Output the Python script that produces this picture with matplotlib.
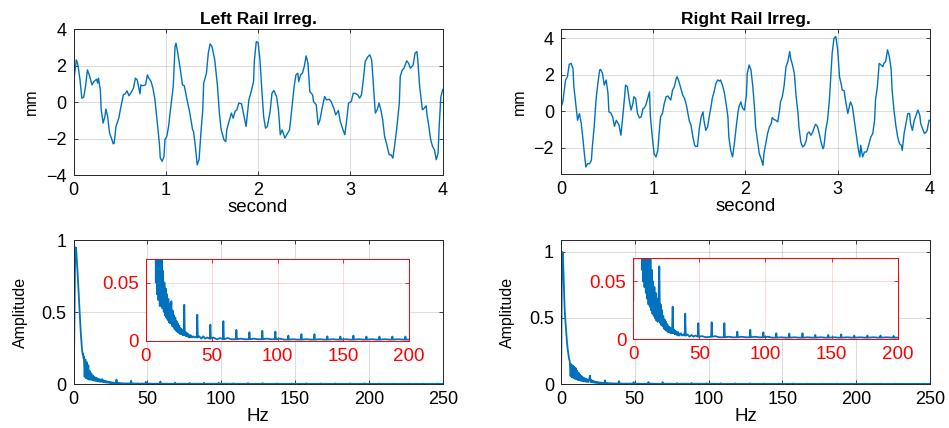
import numpy as np
import matplotlib.pyplot as plt

plt.rcParams['font.family'] = ['Liberation Sans', 'DejaVu Sans']

# ---- time histories (t in s, irregularity in mm)
left_t = [0.00, 0.01, 0.03, 0.04, 0.05, 0.07, 0.09, 0.11, 0.13, 0.15, 0.17, 0.20, 0.22, 0.25, 0.26,
          0.27, 0.29, 0.30, 0.32, 0.34, 0.35, 0.37, 0.39, 0.41, 0.43, 0.44, 0.46, 0.49, 0.51, 0.54,
          0.56, 0.58, 0.60, 0.63, 0.65, 0.67, 0.69, 0.72, 0.73, 0.75, 0.78, 0.80, 0.81, 0.84, 0.86,
          0.88, 0.90, 0.93, 0.94, 0.96, 0.98, 0.99, 1.01, 1.03, 1.05, 1.08, 1.10, 1.11, 1.13, 1.16,
          1.18, 1.20, 1.23, 1.26, 1.29, 1.30, 1.32, 1.34, 1.36, 1.38, 1.40, 1.41, 1.44, 1.46, 1.48,
          1.50, 1.53, 1.56, 1.58, 1.60, 1.63, 1.65, 1.66, 1.69, 1.71, 1.73, 1.75, 1.77, 1.79, 1.82,
          1.84, 1.87, 1.90, 1.93, 1.95, 1.96, 1.98, 2.00, 2.02, 2.04, 2.06, 2.08, 2.10, 2.13, 2.15,
          2.17, 2.20, 2.22, 2.24, 2.26, 2.29, 2.31, 2.34, 2.36, 2.39, 2.41, 2.43, 2.44, 2.46, 2.48,
          2.50, 2.52, 2.54, 2.56, 2.59, 2.60, 2.63, 2.65, 2.67, 2.69, 2.72, 2.74, 2.77, 2.79, 2.82,
          2.84, 2.87, 2.89, 2.92, 2.94, 2.96, 2.98, 3.01, 3.03, 3.05, 3.08, 3.10, 3.12, 3.14, 3.16,
          3.19, 3.21, 3.23, 3.25, 3.27, 3.29, 3.31, 3.33, 3.35, 3.37, 3.39, 3.42, 3.44, 3.46, 3.48,
          3.50, 3.53, 3.54, 3.56, 3.58, 3.61, 3.63, 3.65, 3.68, 3.70, 3.72, 3.73, 3.75, 3.78, 3.80,
          3.82, 3.83, 3.85, 3.87, 3.89, 3.91, 3.93, 3.95, 3.96, 3.98, 4.00]
left_mm = [0.53, 1.50, 2.32, 2.20, 1.96, 1.22, 0.22, 0.27, 0.86, 1.77, 1.50, 0.95, 1.13, 1.26, 1.05,
           1.32, 0.68, -0.42, -1.15, -0.79, -0.38, -0.79, -1.70, -1.97, -2.29, -2.25, -1.33, -0.88, -0.33, 0.40,
           0.46, 0.62, 0.35, 0.58, 0.77, 1.32, 1.22, 0.46, 0.95, 0.90, 0.95, 1.50, 1.37, 1.13, 0.77,
           0.22, -0.79, -2.25, -3.07, -3.25, -2.98, -2.07, -1.88, -1.33, -0.42, 0.86, 3.05, 3.24, 2.69, 1.68,
           0.95, 0.90, 0.13, -0.60, -1.52, -1.61, -2.43, -3.44, -3.16, -1.70, -0.42, 1.04, 1.59, 2.69, 3.20,
           3.05, 2.32, 0.86, -0.60, -1.52, -2.07, -2.16, -1.52, -0.97, -0.60, -0.88, -0.51, -0.42, -0.05, -0.09,
           -0.60, -1.33, 0.13, 0.68, 1.13, 2.32, 3.33, 3.27, 2.32, 0.68, -0.79, -1.43, -1.33, -0.51, 0.49,
           0.64, 0.31, -0.42, -1.79, -1.52, -1.97, -1.79, -1.52, -0.60, 0.86, 1.50, 1.59, 1.13, 1.50, 1.59,
           1.96, 2.54, 2.14, 0.58, 0.40, 0.04, -0.15, -1.24, -0.97, -0.42, 0.31, 0.13, 0.16, 0.04, -0.33,
           -0.69, -0.46, -1.06, -1.52, -1.79, -0.97, -0.05, 0.04, 0.49, 0.49, 0.40, 0.22, 0.40, 1.22, 2.23,
           2.50, 2.60, 2.32, 0.86, -0.60, -0.42, -0.05, -0.42, -0.97, -1.88, -2.25, -2.89, -2.89, -3.07, -2.34,
           -1.52, -0.05, 1.41, 1.74, 1.86, 2.27, 2.14, 1.86, 2.05, 2.69, 2.78, 2.32, 0.86, -0.42, -0.33,
           -0.20, -0.69, -1.33, -2.07, -2.43, -2.61, -3.16, -2.80, -1.52, 0.31, 0.68]

right_t = [0.00, 0.02, 0.04, 0.05, 0.07, 0.09, 0.11, 0.13, 0.14, 0.16, 0.18, 0.20, 0.22, 0.24, 0.25,
           0.27, 0.29, 0.31, 0.33, 0.34, 0.36, 0.38, 0.40, 0.42, 0.43, 0.45, 0.47, 0.49, 0.51, 0.52,
           0.54, 0.56, 0.58, 0.60, 0.61, 0.63, 0.65, 0.67, 0.69, 0.70, 0.72, 0.74, 0.76, 0.78, 0.79,
           0.81, 0.83, 0.85, 0.87, 0.89, 0.90, 0.92, 0.94, 0.96, 0.97, 0.99, 1.01, 1.03, 1.05, 1.07,
           1.08, 1.10, 1.12, 1.14, 1.16, 1.17, 1.19, 1.21, 1.23, 1.25, 1.26, 1.28, 1.30, 1.32, 1.34,
           1.36, 1.37, 1.39, 1.41, 1.43, 1.45, 1.46, 1.48, 1.50, 1.52, 1.54, 1.55, 1.57, 1.59, 1.61,
           1.63, 1.64, 1.66, 1.68, 1.70, 1.72, 1.73, 1.75, 1.77, 1.79, 1.81, 1.82, 1.84, 1.86, 1.88,
           1.90, 1.92, 1.93, 1.95, 1.97, 1.99, 2.01, 2.02, 2.04, 2.06, 2.08, 2.10, 2.11, 2.13, 2.15,
           2.17, 2.19, 2.20, 2.22, 2.24, 2.26, 2.28, 2.29, 2.31, 2.33, 2.35, 2.37, 2.38, 2.40, 2.42,
           2.44, 2.46, 2.48, 2.49, 2.51, 2.53, 2.55, 2.57, 2.58, 2.60, 2.62, 2.64, 2.66, 2.67, 2.69,
           2.71, 2.73, 2.75, 2.76, 2.78, 2.80, 2.82, 2.84, 2.85, 2.87, 2.89, 2.91, 2.93, 2.94, 2.96,
           2.98, 3.00, 3.02, 3.04, 3.05, 3.07, 3.09, 3.11, 3.13, 3.14, 3.16, 3.18, 3.20, 3.22, 3.24,
           3.25, 3.27, 3.29, 3.31, 3.32, 3.34, 3.36, 3.38, 3.40, 3.41, 3.43, 3.45, 3.47, 3.49, 3.50,
           3.52, 3.54, 3.56, 3.58, 3.59, 3.61, 3.63, 3.65, 3.67, 3.69, 3.70, 3.72, 3.74, 3.76, 3.78,
           3.79, 3.81, 3.83, 3.85, 3.87, 3.89, 3.90, 3.92, 3.94, 3.96, 3.97, 3.99, 4.00]
right_mm = [0.20, 0.51, 1.34, 1.71, 1.89, 2.57, 2.62, 2.35, 1.34, 0.42, -0.50, -0.13, -0.68, -1.60, -2.15,
            -3.06, -2.88, -2.88, -2.70, -1.96, -0.86, 0.61, 1.52, 2.26, 2.29, 2.07, 1.43, 1.71, 0.97, -0.04,
            -0.09, -0.31, -0.83, -0.50, -0.59, -0.77, -1.32, -0.31, 0.79, 1.43, 1.34, 0.61, 0.06, 0.42, 0.79,
            0.70, -0.13, -0.37, -0.31, 0.15, 0.15, 0.33, 0.70, 1.06, -0.31, -1.41, -2.33, -2.51, -2.15, -0.86,
            -0.31, -0.13, 0.42, 0.79, 0.83, 0.75, 0.61, 1.16, 1.34, 1.80, 1.89, 1.61, 1.25, 0.88, 0.70,
            0.33, 0.06, -0.50, -0.77, -1.41, -1.87, -1.93, -1.93, -0.95, -0.31, -0.04, -0.50, -1.05, -0.86, -0.22,
            0.33, 0.70, 1.06, 1.52, 1.71, 1.65, 1.71, 1.43, 1.06, 0.42, -0.31, -1.41, -2.15, -2.51, -1.78,
            -0.86, -0.04, 0.24, 0.51, 0.15, 0.06, 0.88, 2.07, 2.53, 2.26, 1.34, 0.06, -0.86, -1.60, -2.33,
            -2.61, -2.97, -2.33, -1.78, -1.23, -0.86, -0.68, -0.35, -0.46, -0.50, -0.59, 0.06, 0.51, 0.79, 1.43,
            2.44, 2.72, 3.27, 2.90, 2.53, 2.07, 0.79, -0.13, -0.86, -1.69, -1.96, -1.87, -1.60, -1.23, -1.14,
            -1.32, -1.14, -0.83, -0.72, -0.83, -1.23, -1.69, -2.06, -1.96, -1.05, -0.50, 0.61, 2.26, 3.17, 4.00,
            4.09, 3.36, 1.89, 1.43, 1.16, 1.12, 0.42, -0.13, 0.33, 0.51, 0.24, -0.50, -1.23, -1.96, -2.51,
            -1.87, -2.51, -2.24, -2.24, -2.15, -1.78, -1.41, -1.23, -0.50, 0.61, 1.34, 2.62, 2.53, 2.44, 2.62,
            2.72, 3.36, 2.99, 2.26, 1.16, 0.06, -0.77, -1.41, -1.78, -1.87, -2.15, -1.23, -0.68, -0.13, -0.13,
            -0.68, -1.05, -0.50, -0.22, 0.06, -0.22, -0.68, -0.95, -1.23, -1.14, -1.05, -0.50, -0.50]

# ---- amplitude spectra (Hz, amplitude)
left_hz = [0.0, 0.25, 0.5, 0.75, 1.0, 1.25, 1.5, 1.75, 2.0, 2.25, 2.5, 2.75, 3.0, 3.25, 3.5,
           3.75, 4.0, 4.25, 4.5, 4.75, 5.0, 5.25, 5.5, 5.75, 6.0, 6.25, 6.5, 6.75,
           7.0, 7.5, 8.0, 8.5, 9.0, 9.5, 10.0, 10.5, 11.0, 11.5, 12.0, 12.5, 13.0, 13.5, 14.0, 14.5,
           15.0, 15.5, 16.0, 16.5, 17.0, 17.5, 18.0, 18.5, 19.3, 19.8, 20.3, 20.8, 21.3, 21.8, 22.3,
           22.8, 23.3, 23.8, 24.3, 24.8, 25.3, 25.8, 26.3, 26.8, 27.3, 27.8, 28.3, 28.7, 29.1, 29.5,
           30.0, 30.5, 31.0, 31.5, 32.0, 32.5, 33.0, 33.5, 34.0, 35.0, 36.0, 37.0, 38.0, 38.6, 39.0, 39.4,
           40.5, 42.0, 43.5, 45.0, 46.5, 48.5, 48.9, 49.3, 51.0, 54.0, 56.5, 58.4, 58.8, 59.2, 62.0, 65.0,
           68.3, 68.7, 69.1, 72.0, 75.0, 78.2, 78.6, 79.0, 82.0, 85.0, 88.0, 88.4, 88.8, 92.0, 95.0,
           97.9, 98.3, 98.7, 102.0, 105.0, 107.8, 108.2, 108.6, 112.0, 115.0, 117.7, 118.1, 118.5,
           122.0, 125.0, 127.6, 128.0, 128.4, 132.0, 135.0, 137.4, 137.8, 138.2, 142.0, 145.0, 147.3,
           147.7, 148.1, 152.0, 155.0, 157.2, 157.6, 158.0, 162.0, 165.0, 167.1, 167.5, 167.9, 172.0,
           175.0, 177.0, 177.4, 177.8, 182.0, 185.0, 186.8, 187.2, 187.6, 192.0, 195.0, 196.7, 197.1,
           197.5, 202.0, 206.6, 207.0, 207.4, 212.0, 216.5, 216.9, 217.3, 222.0, 226.3, 226.7, 227.1,
           232.0, 236.2, 236.6, 237.0, 242.0, 246.1, 246.5, 246.9, 250.0]
left_amp = [0.043, 0.12, 0.35, 0.62, 0.82, 0.92, 0.95, 0.94, 0.90, 0.86, 0.82, 0.77, 0.72, 0.66, 0.61,
            0.56, 0.52, 0.46, 0.42, 0.38, 0.34, 0.30, 0.27, 0.24, 0.22, 0.20, 0.21, 0.18,
            0.19, 0.05, 0.17, 0.04, 0.15, 0.035, 0.13, 0.03, 0.09, 0.03, 0.075, 0.028, 0.06, 0.025, 0.05, 0.022,
            0.045, 0.020, 0.040, 0.018, 0.036, 0.016, 0.032, 0.015, 0.034, 0.013, 0.026, 0.012, 0.022, 0.010, 0.020,
            0.009, 0.017, 0.008, 0.015, 0.007, 0.013, 0.006, 0.011, 0.006, 0.010, 0.005, 0.009, 0.005, 0.031, 0.005,
            0.008, 0.004, 0.007, 0.004, 0.006, 0.003, 0.005, 0.003, 0.005, 0.003, 0.004, 0.003, 0.0035, 0.003, 0.0225, 0.003,
            0.004, 0.002, 0.004, 0.002, 0.003, 0.002, 0.014, 0.002, 0.003, 0.0015, 0.0025, 0.0015, 0.017, 0.0015, 0.0025, 0.0015,
            0.0015, 0.0095, 0.0015, 0.002, 0.0015, 0.0015, 0.0075, 0.0015, 0.002, 0.0015, 0.0015, 0.0087, 0.0015, 0.002, 0.0015,
            0.0015, 0.008, 0.0015, 0.002, 0.0012, 0.0012, 0.0046, 0.0012, 0.0015, 0.0012, 0.0012, 0.0058, 0.0012,
            0.0015, 0.0012, 0.0012, 0.0058, 0.0012, 0.0015, 0.0012, 0.0012, 0.0040, 0.0012, 0.0015, 0.0012, 0.0012,
            0.0038, 0.0012, 0.0015, 0.0012, 0.0012, 0.0046, 0.0012, 0.0015, 0.0012, 0.0012, 0.0038, 0.0012, 0.0015,
            0.0012, 0.0012, 0.0038, 0.0012, 0.0015, 0.0012, 0.0012, 0.0038, 0.0012, 0.0015, 0.0012, 0.0012, 0.0038,
            0.0012, 0.0012, 0.0012, 0.0032, 0.0012, 0.0012, 0.0012, 0.0030, 0.0012, 0.0012, 0.0012, 0.0030, 0.0012,
            0.0012, 0.0012, 0.0028, 0.0012, 0.0012, 0.0012, 0.0028, 0.0012, 0.0012]

right_hz = [0.0, 0.25, 0.5, 0.75, 1.0, 1.25, 1.5, 1.75, 2.0, 2.25, 2.5, 2.75, 3.0, 3.25, 3.5,
            3.75, 4.0, 4.25, 4.5, 4.75, 5.0, 5.25, 5.5, 5.75, 6.0,
            6.5, 7.0, 7.5, 8.0, 8.5, 9.0, 9.5, 10.0, 10.5, 11.0, 11.5, 12.0, 12.5, 13.0, 13.5, 14.0,
            14.5, 15.0, 15.5, 16.0, 16.5, 17.0, 17.5, 18.0, 18.5, 19.0, 19.7, 20.2, 20.7, 21.2, 21.7,
            22.2, 22.7, 23.2, 23.7, 24.2, 24.7, 25.2, 25.7, 26.2, 26.7, 27.2, 27.7, 28.2, 28.7, 29.3,
            29.8, 30.3, 31.0, 31.5, 32.0, 32.5, 33.0, 33.5, 34.0, 35.0, 36.0, 37.0, 38.0, 38.9, 39.3,
            39.7, 41.0, 42.5, 44.0, 45.5, 47.0, 48.8, 49.2, 49.6, 52.0, 55.0, 58.9, 59.3, 59.7, 62.0,
            65.0, 68.5, 68.9, 69.3, 72.0, 75.0, 78.3, 78.7, 79.1, 82.0, 85.0, 88.1, 88.5, 88.9, 92.0,
            95.0, 98.0, 98.4, 98.8, 102.0, 105.0, 107.8, 108.2, 108.6, 112.0, 115.0, 117.6, 118.0,
            118.4, 122.0, 125.0, 127.6, 128.0, 128.4, 132.0, 135.0, 137.3, 137.7, 138.1, 142.0, 145.0,
            147.1, 147.5, 147.9, 152.0, 155.0, 156.9, 157.3, 157.7, 162.0, 165.0, 166.8, 167.2, 167.6,
            172.0, 175.0, 176.7, 177.1, 177.5, 182.0, 185.0, 186.6, 187.0, 187.4, 192.0, 195.0, 196.5,
            196.9, 197.3, 202.0, 206.4, 206.8, 207.2, 212.0, 216.3, 216.7, 217.1, 222.0, 226.2, 226.6,
            227.0, 232.0, 236.1, 236.5, 236.9, 242.0, 246.0, 246.4, 246.8, 250.0]
right_amp = [0.033, 0.25, 0.70, 0.95, 1.00, 0.99, 0.92, 0.82, 0.73, 0.65, 0.57, 0.52, 0.48, 0.44, 0.40,
             0.36, 0.33, 0.30, 0.27, 0.25, 0.23, 0.21, 0.19, 0.18, 0.17,
             0.06, 0.15, 0.05, 0.14, 0.045, 0.13, 0.04, 0.12, 0.035, 0.10, 0.03, 0.085, 0.028, 0.07, 0.025, 0.06,
             0.022, 0.05, 0.020, 0.045, 0.018, 0.040, 0.016, 0.035, 0.015, 0.030, 0.063, 0.014, 0.030, 0.012, 0.025,
             0.011, 0.020, 0.009, 0.017, 0.008, 0.015, 0.007, 0.013, 0.006, 0.011, 0.006, 0.010, 0.005, 0.009, 0.005,
             0.028, 0.005, 0.008, 0.004, 0.007, 0.004, 0.006, 0.003, 0.006, 0.003, 0.005, 0.003, 0.004, 0.003, 0.022,
             0.003, 0.004, 0.002, 0.0035, 0.002, 0.003, 0.002, 0.0137, 0.002, 0.0025, 0.0015, 0.002, 0.0145, 0.002, 0.0025,
             0.0015, 0.0015, 0.0137, 0.0015, 0.002, 0.0015, 0.0015, 0.0064, 0.0015, 0.002, 0.0015, 0.0015, 0.008, 0.0015, 0.002,
             0.0015, 0.0015, 0.0058, 0.0015, 0.002, 0.0012, 0.0012, 0.0050, 0.0012, 0.0015, 0.0012, 0.0012, 0.0047,
             0.0012, 0.0015, 0.0012, 0.0012, 0.0050, 0.0012, 0.0015, 0.0012, 0.0012, 0.0035, 0.0012, 0.0015, 0.0012,
             0.0012, 0.0035, 0.0012, 0.0015, 0.0012, 0.0012, 0.0040, 0.0012, 0.0015, 0.0012, 0.0012, 0.0030, 0.0012,
             0.0015, 0.0012, 0.0012, 0.0030, 0.0012, 0.0015, 0.0012, 0.0012, 0.0030, 0.0012, 0.0015, 0.0012, 0.0012,
             0.0027, 0.0012, 0.0012, 0.0012, 0.0026, 0.0012, 0.0012, 0.0012, 0.0025, 0.0012, 0.0012, 0.0012, 0.0025,
             0.0012, 0.0012, 0.0012, 0.0024, 0.0012, 0.0012, 0.0012, 0.0024, 0.0012, 0.0012]

titles = ['Left Rail Irreg.', 'Right Rail Irreg.']

BLUE = '#0072BD'
AX_C = '#262626'


def matlab_style(ax, color=AX_C, fs=13):
    '''box on, ticks inside, light grid - the look of a default matlab axes'''
    for s in ax.spines.values():
        s.set_color(color)
        s.set_linewidth(0.7)
    ax.tick_params(direction='in', top=True, right=True, length=3, width=0.6,
                   color=color, labelcolor=color if color != AX_C else 'k', labelsize=fs, pad=5)
    ax.grid(True, color=color, alpha=0.15, lw=0.8)
    ax.set_axisbelow(True)


fig = plt.figure(figsize=(9.49, 4.28), dpi=100)

top_pos = [[0.0775, 0.5911, 0.389, 0.3404], [0.5911, 0.5928, 0.3888, 0.3388]]
bot_pos = [[0.0775, 0.1028, 0.389, 0.3364], [0.5911, 0.1028, 0.3888, 0.3364]]
ins_pos = [[0.1538, 0.2033, 0.2774, 0.1909], [0.6673, 0.2079, 0.2786, 0.1886]]
top_ylim = [(-4, 4), (-3.46, 4.49)]
bot_ylim = [(0, 1), (0, 1.09)]

series = [(left_t, left_mm, left_hz, left_amp), (right_t, right_mm, right_hz, right_amp)]

for i, (t, mm, hz, amp) in enumerate(series):
    # time history
    ax = fig.add_axes(top_pos[i])
    ax.plot(t, mm, color=BLUE, lw=1.0)
    ax.set_xlim(0, 4)
    ax.set_ylim(*top_ylim[i])
    ax.set_xticks([0, 1, 2, 3, 4])
    ax.set_yticks([-4, -2, 0, 2, 4] if i == 0 else [-2, 0, 2, 4])
    matlab_style(ax)
    ax.set_title(titles[i], fontsize=12.5, fontweight='bold', pad=4)
    ax.set_xlabel('second', fontsize=13.5, labelpad=0)
    ax.set_ylabel('mm', fontsize=11.5, labelpad=5)

    # spectrum
    ax2 = fig.add_axes(bot_pos[i])
    ax2.plot(hz, amp, color=BLUE, lw=1.3)
    ax2.set_xlim(0, 250)
    ax2.set_ylim(*bot_ylim[i])
    ax2.set_xticks([0, 50, 100, 150, 200, 250])
    ax2.set_yticks([0, 0.5, 1])
    ax2.set_yticklabels(['0', '0.5', '1'])
    matlab_style(ax2)
    ax2.set_xlabel('Hz', fontsize=13.5, labelpad=0)
    ax2.set_ylabel('Amplitude', fontsize=11.5, labelpad=10)

    # zoomed inset, red frame
    ins = fig.add_axes(ins_pos[i])
    ins.plot(hz, amp, color=BLUE, lw=1.3)
    ins.set_xlim(0, 200)
    ins.set_ylim(0, 0.07)
    ins.set_xticks([0, 50, 100, 150, 200])
    ins.set_yticks([0, 0.05])
    ins.set_yticklabels(['0', '0.05'])
    matlab_style(ins, color='red', fs=13.5)
    ins.set_facecolor('white')

fig.savefig('out.png', dpi=100)
